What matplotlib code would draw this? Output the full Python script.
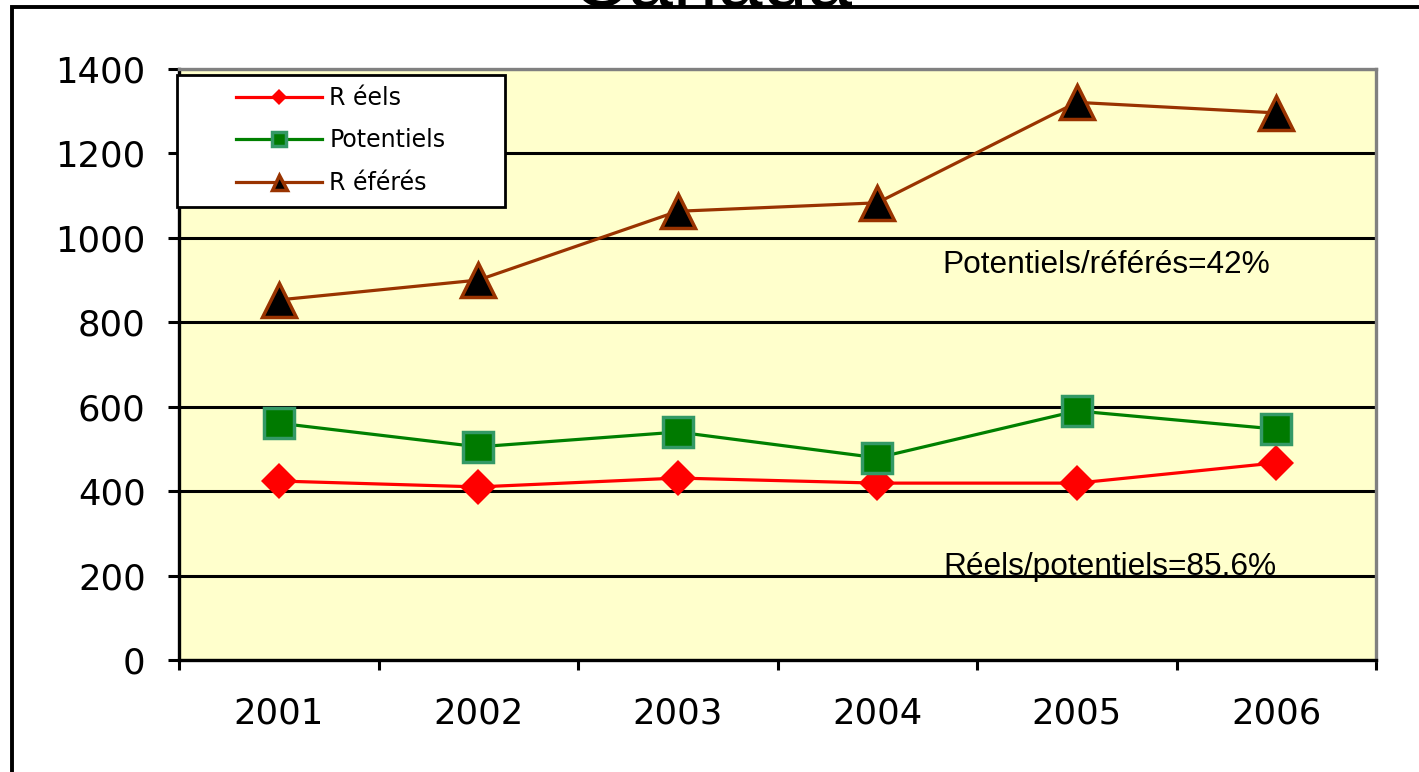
import matplotlib
matplotlib.use("Agg")
from matplotlib import pyplot as plt
from matplotlib.patches import Rectangle
from matplotlib.ticker import FixedLocator

#DATA-------------------------------------------------------------------------------------------------------------------#
years = ["2001", "2002", "2003", "2004", "2005", "2006"]
reels = [424, 410, 431, 419, 419, 467]
potentiels = [561, 505, 540, 479, 590, 547]
referes = [853, 900, 1063, 1083, 1321, 1296]

legend_labels = ["R éels", "Potentiels", "R éférés"]
title_text = "Canada"
note_top = "Potentiels/référés=42%"
note_bottom = "Réels/potentiels=85.6%"

#FIGURE-----------------------------------------------------------------------------------------------------------------#
W, H = 1419, 772
fig = plt.figure(figsize=(W / 100, H / 100), dpi=100)
ax = fig.add_axes([179 / W, 1 - 660 / H, (1376 - 179) / W, (660 - 69) / H])
ax.set_facecolor("#FFFFCC")

x = list(range(len(years)))

# Series #
ax.plot(x, reels, color="#FF0000", lw=2.3, marker="D", ms=18,
        mfc="#FF0000", mec="#FF0000", mew=0, label=legend_labels[0], zorder=3)
ax.plot(x, potentiels, color="#008000", lw=2.3, marker="s", ms=21.5,
        mfc="#007A00", mec="#339966", mew=2.5, label=legend_labels[1], zorder=3)
ax.plot(x, referes, color="#993300", lw=2.3, marker="^", ms=24,
        mfc="#000000", mec="#993300", mew=2.5, label=legend_labels[2], zorder=3)

# Axes limits and ticks #
ax.set_xlim(-0.5, len(years) - 0.5)
ax.set_ylim(0, 1400)
ax.set_yticks(range(0, 1401, 200))
ax.set_xticks(x)
ax.set_xticklabels(years)
ax.xaxis.set_minor_locator(FixedLocator([i - 0.5 for i in range(len(years) + 1)]))

for lab in ax.get_xticklabels() + ax.get_yticklabels():
    lab.set_fontfamily("DejaVu Sans")
    lab.set_fontsize(25.5)

ax.tick_params(axis="x", which="major", length=0, pad=26.5)
ax.tick_params(axis="x", which="minor", length=7.5, width=2.2, direction="out", color="black")
ax.tick_params(axis="y", which="major", length=8, width=2.2, direction="out", pad=16, color="black")

# Grid #
ax.set_axisbelow(True)
ax.yaxis.grid(True, color="black", lw=2.2)
ax.xaxis.grid(False)

# Spines #
for side in ["left", "bottom"]:
    ax.spines[side].set_color("black")
    ax.spines[side].set_linewidth(2.4)
for side in ["top", "right"]:
    ax.spines[side].set_color("#808080")
    ax.spines[side].set_linewidth(2.4)

# Notes #
ax.text(3.325, 936, note_top, ha="left", va="center", fontsize=22.8,
        family="Liberation Sans", zorder=4)
ax.text(3.33, 220, note_bottom, ha="left", va="center", fontsize=22.8,
        family="Liberation Sans", zorder=4)

# Legend box and entries #
box = Rectangle((177 / W, 1 - 207 / H), (505 - 177) / W, (207 - 75) / H,
                transform=fig.transFigure, facecolor="white", edgecolor="black",
                lw=2.0, zorder=5, clip_on=False)
ax.add_artist(box)
leg = ax.legend(loc="upper left", bbox_to_anchor=(236 / W, 1 - 86 / H),
                bbox_transform=fig.transFigure, frameon=False, borderaxespad=0,
                borderpad=0, handlelength=3.65, handletextpad=0.3, labelspacing=0.78,
                numpoints=1, markerscale=0.45, prop=dict(family="DejaVu Sans", size=17))
leg.set_zorder(6)

# Outer frame and title #
frame = Rectangle((11.7 / W, -0.1), 1.2, 1 - 6.7 / H + 0.1, transform=fig.transFigure,
                  facecolor="none", edgecolor="black", lw=2.8, clip_on=False)
fig.add_artist(frame)
fig.text(712 / W, 1 - 6 / H, title_text, ha="center", va="baseline", fontsize=58,
         family="Liberation Sans", color="black")

fig.savefig("out.png", dpi=100)
